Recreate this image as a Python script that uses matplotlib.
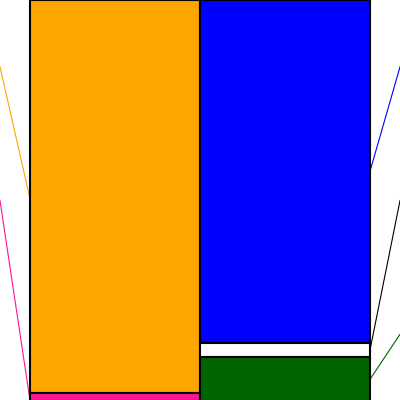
import matplotlib
matplotlib.use("Agg")
import matplotlib.pyplot as plt

# left column (assets) and right column (liabilities + equity), shares of total
left_vals = [0.979, 0.021]
left_colors = ["#ffa500", "#ff1493"]
right_vals = [0.854, 0.037, 0.109]
right_colors = ["#0000ff", "#ffffff", "#006400"]
right_line_colors = ["#0000ff", "#000000", "#006400"]

# y of the label anchors at the figure edges
label_y = [5 / 6, 1 / 2, 1 / 6]

fig = plt.figure(figsize=(4, 4), dpi=100)
ax = fig.add_axes([0, 0, 1, 1])
ax.axis("off")

xl = -29.5 / 170.25
xr = 2 + 30 / 170.25
ax.set_xlim(xl, xr)
ax.set_ylim(0.003, 1)

def stack(x0, vals, colors):
    top = 1.0
    centers = []
    for v, c in zip(vals, colors):
        ax.bar(x0, v, width=1, bottom=top - v, align="edge", color=c,
               edgecolor="black", linewidth=1.5, zorder=2)
        centers.append(top - v / 2)
        top -= v
    return centers

lc = stack(0, left_vals, left_colors)
rc = stack(1, right_vals, right_colors)

for i, (c, col) in enumerate(zip(lc, left_colors)):
    ax.plot([xl, 0], [label_y[i], c], color=col, linewidth=0.8, zorder=1)
for i, (c, col) in enumerate(zip(rc, right_line_colors)):
    ax.plot([xr, 2], [label_y[i], c], color=col, linewidth=0.8, zorder=1)

fig.savefig("out.png", dpi=100)
